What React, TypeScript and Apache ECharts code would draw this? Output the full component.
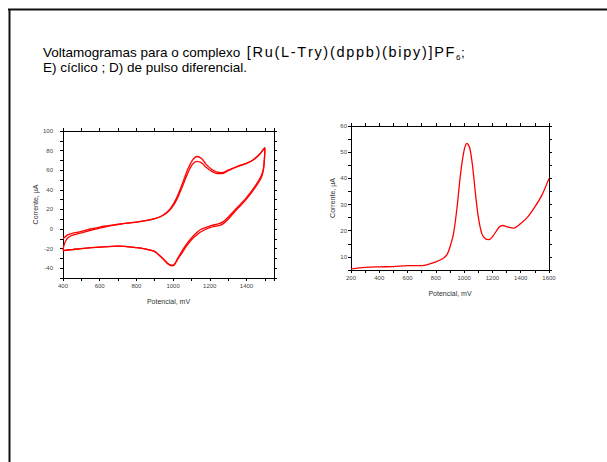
import React, { useEffect, useRef } from "react";
import * as echarts from "echarts";

// Cyclic voltammogram (two cycles, forward & reverse branches) [potential mV, current µA]
const cvForward1: number[][] = [
  [400, -10], [425, -6], [450, -4.5], [500, -2.5], [550, 0], [600, 2], [650, 3.5], [700, 5],
  [750, 6], [800, 7], [850, 8.5], [900, 10.5], [930, 12.5], [960, 16], [990, 22], [1020, 32],
  [1050, 46], [1080, 61], [1105, 70], [1130, 74], [1155, 72], [1180, 66], [1210, 61],
  [1240, 58], [1265, 57.5], [1300, 60], [1350, 64], [1400, 67], [1440, 71], [1470, 76], [1500, 83],
];
const cvReverse1: number[][] = [
  [1500, 83], [1498, 72], [1492, 61], [1480, 54], [1450, 44.5], [1400, 32], [1350, 22],
  [1300, 12], [1270, 7], [1250, 5.5], [1200, 3], [1150, -0.5], [1120, -5], [1100, -9],
  [1075, -15], [1050, -22], [1025, -30], [1005, -36.5], [990, -37], [970, -35], [950, -31],
  [920, -26], [900, -23], [850, -20.5], [800, -19], [700, -17.5], [600, -18.5], [500, -20],
  [450, -21], [400, -22],
];
const cvForward2: number[][] = [
  [400, -22], [405, -17], [415, -12], [430, -8.5], [450, -6.5], [500, -4], [550, -1.5],
  [600, 1], [650, 3], [700, 4.5], [750, 6], [800, 7], [850, 8.5], [900, 10.5], [930, 12.5],
  [960, 15.5], [990, 21], [1020, 30], [1050, 43], [1080, 57], [1105, 66], [1130, 69],
  [1155, 67.5], [1180, 63], [1210, 59], [1240, 56.5], [1265, 56.5], [1300, 59.5], [1350, 63.5],
  [1400, 67], [1440, 71], [1470, 76], [1500, 83],
];
const cvReverse2: number[][] = [
  [1500, 83], [1498, 72], [1492, 60], [1480, 52], [1450, 43], [1400, 30.5], [1350, 20.5],
  [1300, 10], [1270, 5], [1250, 3.5], [1200, 1.5], [1150, -3], [1120, -7.5], [1100, -11],
  [1075, -17], [1050, -24], [1025, -31], [1005, -37], [990, -37.5], [970, -35.5], [950, -31.5],
  [920, -26], [900, -23], [850, -20.5], [800, -19], [700, -17.5], [600, -18.5], [500, -20],
  [450, -21], [400, -22],
];

// Differential pulse voltammogram
const dpvPotential: number[] = [
  200, 300, 400, 500, 600, 700, 750, 800, 850, 880, 900, 925, 950, 975, 1000, 1020, 1040,
  1060, 1080, 1100, 1125, 1150, 1175, 1200, 1250, 1275, 1300, 1350, 1400, 1450, 1500, 1550, 1600,
];
const dpvCurrent: number[] = [
  5.4, 6.0, 6.2, 6.3, 6.7, 6.7, 7.2, 8.1, 9.4, 11, 13.8, 18.9, 29, 41.9, 50.8, 53.4, 51.5,
  44.5, 34.2, 25.3, 18.9, 16.9, 16.6, 17.7, 21.5, 22.0, 21.6, 21.0, 22.8, 25.3, 29.1, 33.6, 40,
];

const titleStart = "Voltamogramas para o complexo ";
const titleFormula = "[Ru(L-Try)(dppb)(bipy)]PF";
const titleSub = "6";
const titleTail = ";";
const titleLine2 = "E) cíclico ; D) de pulso diferencial.";
const xName = "Potencial, mV";
const yName = "Corrente, µA";

const FONT = "Liberation Sans, Arial, sans-serif";

export default function App() {
  const ref = useRef<HTMLDivElement>(null);
  useEffect(() => {
    if (!ref.current) return;
    const chart = echarts.init(ref.current, undefined, { renderer: "svg" });
    const line = { onZero: false, lineStyle: { color: "#000", width: 1 } };
    const tickOut = { show: true, inside: false, length: 3, lineStyle: { color: "#000", width: 1 } };
    const lbl = (mod: number, margin: number) => ({
      fontSize: 6,
      color: "#444",
      fontFamily: FONT,
      margin,
      formatter: (v: number) => (Math.abs(v % mod) < 1e-9 ? String(v) : ""),
    });
    const nameStyle = { fontSize: 7, color: "#333", fontFamily: FONT };
    const mkSeries = (data: number[][], xi: number, yi: number) => ({
      type: "line",
      data,
      xAxisIndex: xi,
      yAxisIndex: yi,
      showSymbol: false,
      symbol: "none",
      smooth: 0.3,
      lineStyle: { color: "#ff0000", width: 1.3 },
      silent: true,
    });
    const formulaRich = titleFormula
      .split("")
      .map((c) => `{c|${c}}`)
      .join("");
    const titleFont = { fontSize: 13.5, fontFamily: FONT, fill: "#000" };
    chart.setOption({
      animation: false,
      backgroundColor: "#fff",
      grid: [
        { left: 63, top: 131, width: 211, height: 147 },
        { left: 351, top: 126, width: 198, height: 144 },
      ],
      xAxis: [
        {
          type: "value", gridIndex: 0, position: "bottom", min: 400, max: 1550, interval: 100,
          axisLine: line, axisTick: tickOut, splitLine: { show: false },
          axisLabel: lbl(200, 5), name: xName, nameLocation: "middle", nameGap: 20, nameTextStyle: nameStyle,
        },
        {
          type: "value", gridIndex: 0, position: "top", min: 400, max: 1550, interval: 100,
          axisLine: line, axisTick: tickOut, splitLine: { show: false }, axisLabel: { show: false },
        },
        {
          type: "value", gridIndex: 1, position: "bottom", min: 200, max: 1600, interval: 100,
          axisLine: line, axisTick: tickOut, splitLine: { show: false },
          axisLabel: lbl(200, 5), name: xName, nameLocation: "middle", nameGap: 20, nameTextStyle: nameStyle,
        },
        {
          type: "value", gridIndex: 1, position: "top", min: 200, max: 1600, interval: 100,
          axisLine: line, axisTick: tickOut, splitLine: { show: false }, axisLabel: { show: false },
        },
      ],
      yAxis: [
        {
          type: "value", gridIndex: 0, position: "left", min: -50, max: 100, interval: 10,
          axisLine: line, axisTick: tickOut, splitLine: { show: false },
          axisLabel: lbl(20, 10), name: yName, nameLocation: "middle", nameGap: 22, nameTextStyle: nameStyle,
        },
        {
          type: "value", gridIndex: 0, position: "right", min: -50, max: 100, interval: 10,
          axisLine: line, axisTick: tickOut, splitLine: { show: false }, axisLabel: { show: false },
        },
        {
          type: "value", gridIndex: 1, position: "left", min: 5, max: 60, interval: 5,
          axisLine: line, axisTick: tickOut, splitLine: { show: false },
          axisLabel: lbl(10, 4), name: yName, nameLocation: "middle", nameGap: 15, nameTextStyle: nameStyle,
        },
        {
          type: "value", gridIndex: 1, position: "right", min: 5, max: 60, interval: 5,
          axisLine: line, axisTick: tickOut, splitLine: { show: false }, axisLabel: { show: false },
        },
      ],
      series: [
        mkSeries(cvForward1, 0, 0),
        mkSeries(cvReverse1, 0, 0),
        mkSeries(cvForward2, 0, 0),
        mkSeries(cvReverse2, 0, 0),
        mkSeries(dpvPotential.map((x, i) => [x, dpvCurrent[i]]), 2, 2),
      ],
      graphic: [
        { type: "line", shape: { x1: 8, y1: 9.5, x2: 607, y2: 9.5 }, style: { stroke: "#111", lineWidth: 2 } },
        { type: "line", shape: { x1: 9.5, y1: 9, x2: 9.5, y2: 462 }, style: { stroke: "#111", lineWidth: 2 } },
        {
          type: "text", x: 43, y: 52,
          style: { text: titleStart, verticalAlign: "middle", ...titleFont },
        },
        {
          type: "text", x: 246, y: 52,
          style: {
            text: formulaRich,
            verticalAlign: "middle",
            rich: { c: { ...titleFont, fontSize: 14.5, padding: [0, 0.85, 0, 0.85] } },
          },
        },
        {
          type: "text", x: 456, y: 57,
          style: { text: titleSub, verticalAlign: "middle", fontSize: 8, fontFamily: FONT, fill: "#000" },
        },
        {
          type: "text", x: 461, y: 52,
          style: { text: titleTail, verticalAlign: "middle", ...titleFont },
        },
        {
          type: "text", x: 43, y: 67,
          style: { text: titleLine2, verticalAlign: "middle", ...titleFont },
        },
      ],
    });
    return () => chart.dispose();
  }, []);
  return (
    <div
      ref={ref}
      style={{ position: "absolute", left: 0, top: 0, width: 607, height: 462 }}
    />
  );
}
